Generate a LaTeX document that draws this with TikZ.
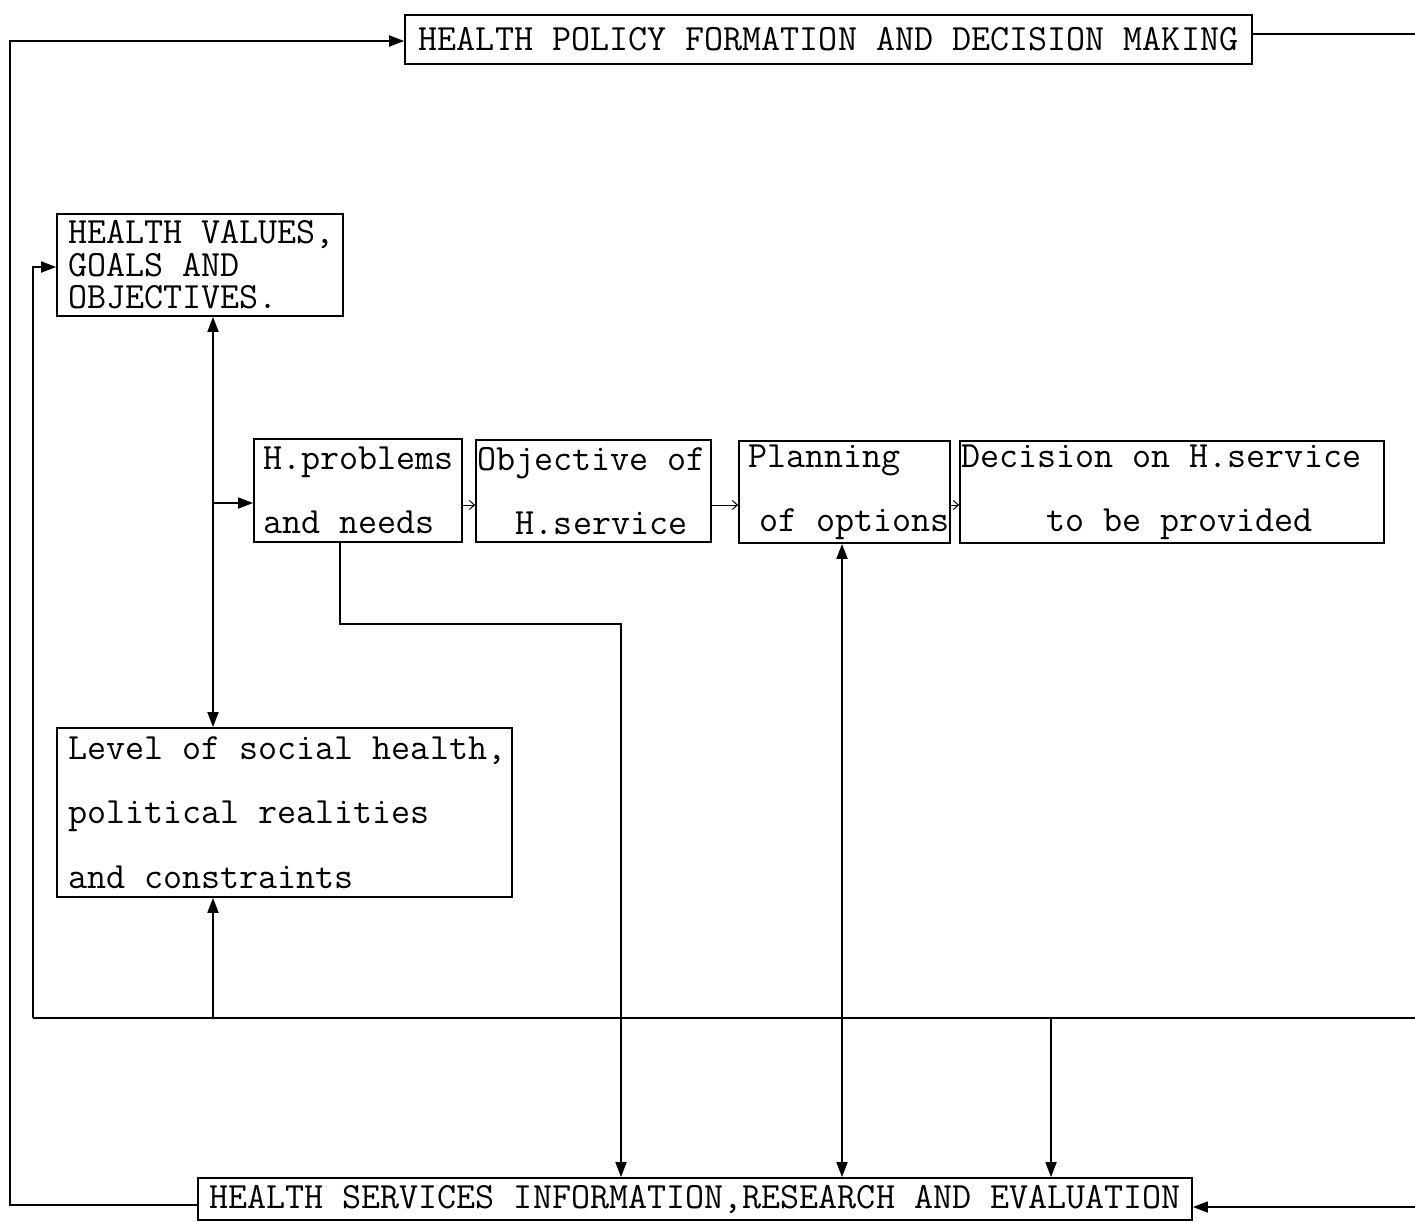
\documentclass[tikz,border=0pt]{standalone}
\usepackage{fontspec}
\usetikzlibrary{arrows.meta}
\newcommand\lline[1]{\makebox[0pt][l]{\spaceskip=0pt\xspaceskip=0pt\relax #1}}
\begin{document}
\begin{tikzpicture}[x=1pt,y=-1pt,
  line width=1.8pt,
  box/.style={draw, rectangle, inner ysep=0pt, anchor=center},
  arr/.style={-{Triangle[length=15pt,width=11pt]}},
  arrtwo/.style={{Triangle[length=15pt,width=11pt]}-{Triangle[length=15pt,width=11pt]}},
  sarr/.style={line width=1pt,-{Straight Barb[length=5pt,width=9pt]}},
  ftone/.style={font=\ttfamily\fontsize{37}{32.5}\selectfont},
  fttwo/.style={font=\ttfamily\fontsize{37}{64}\selectfont}
]
\useasboundingbox (0,0) rectangle (1415,1221);

% boxes
\node[box, ftone, minimum width=847pt, minimum height=49pt, inner xsep=0pt] (top) at (828.5,39.5)
  {HEALTH POLICY FORMATION AND DECISION MAKING};
\node[box, ftone, minimum height=102pt, inner xsep=11pt, text width=264pt, align=left] (vals) at (200,265)
  {\lline{HEALTH VALUES,}\\\lline{GOALS AND}\\\lline{OBJECTIVES.}};
\node[box, fttwo, minimum height=103pt, inner xsep=9pt, text width=190pt, align=left] (prob) at (358,490.5)
  {\lline{H.problems}\\\lline{and needs}};
\node[box, fttwo, minimum height=102pt, inner xsep=1pt, text width=233pt, align=left] (obj) at (593.5,491)
  {\lline{Objective of}\\\lline{\hspace*{1.05em}H.service}};
\node[box, fttwo, minimum height=102pt, inner xsep=9pt, text width=193pt, align=left] (plan) at (844.5,492)
  {\lline{Planning}\\\lline{\hspace*{0.3em}of options}};
\node[box, fttwo, minimum height=102pt, inner xsep=1pt, text width=422pt, align=left] (dec) at (1172,492)
  {\lline{Decision on H.service}\\\lline{\hspace*{2.3em}to be provided}};
\node[box, font=\ttfamily\fontsize{37}{64.5}\selectfont, minimum height=169pt, inner xsep=11pt, text width=433pt, align=left] (level) at (284.5,812.5)
  {\lline{Level of social health,}\\\lline{political realities}\\\lline{and constraints}};
\node[box, ftone, minimum width=994pt, minimum height=42pt, inner xsep=0pt] (bottom) at (695,1199)
  {HEALTH SERVICES INFORMATION,RESEARCH AND EVALUATION};

% coordinates
\coordinate (tl) at (10,41);
\coordinate (bl) at (10,1205);
\coordinate (tr) at (1415,34);
\coordinate (br) at (1415,1207);
\coordinate (busL) at (33,1018);
\coordinate (busR) at (1415,1018);
\coordinate (vl) at (33,267);
\coordinate (spine) at (213,503);
\coordinate (lv) at (213,1018);
\coordinate (ay) at (0,505);
\coordinate (pb) at (340,624);
\coordinate (pc) at (621,624);
\coordinate (px) at (842,0);
\coordinate (dx) at (1051,1018);

% outer loop
\draw[arr] (bl -| bottom.west) -- (bl) -- (tl) -- (tl -| top.west);
\draw (tr -| top.east) -- (tr);
\draw[arr] (br) -- (br -| bottom.east);

% bus
\draw (busL) -- (busR);
\draw[arr] (busL) -- (vl) -- (vl -| vals.west);
\draw[arr] (lv) -- (lv |- level.south);
\draw[arr] (dx) -- (dx |- bottom.north);

% spine
\draw[arrtwo] (spine |- vals.south) -- (spine |- level.north);
\draw[arr] (spine) -- (spine -| prob.west);

% chain
\draw[sarr] (prob.east |- ay) -- (obj.west |- ay);
\draw[sarr] (obj.east |- ay) -- (plan.west |- ay);
\draw[sarr] (plan.east |- ay) -- (dec.west |- ay);

% down links
\draw[arr] (pb |- prob.south) -- (pb) -- (pc) -- (pc |- bottom.north);
\draw[arrtwo] (px |- plan.south) -- (px |- bottom.north);
\end{tikzpicture}
\end{document}
